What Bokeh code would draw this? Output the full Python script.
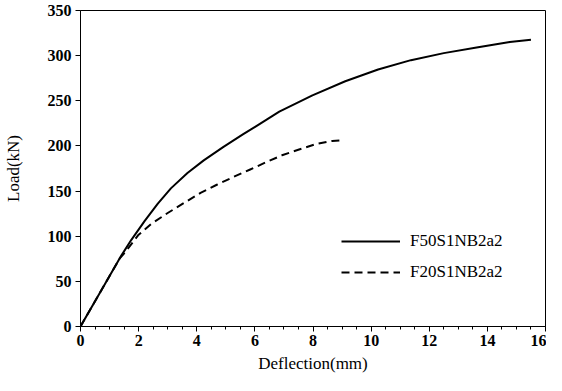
from bokeh.plotting import figure
from bokeh.models import Range1d, SingleIntervalTicker, Legend, LegendItem
from bokeh.embed import file_html
from bokeh.resources import INLINE

# Data
f50_x = [0, 0.5, 1.0, 1.41, 1.75, 2.21, 2.66, 3.11, 3.68, 4.24, 4.92, 5.6, 6.05,
         6.84, 7.98, 9.11, 10.24, 11.37, 12.5, 13.63, 14.77, 15.5]
f50_y = [0, 28, 56, 78.8, 96, 117, 136, 153, 170, 184, 199, 213, 222,
         238, 256, 271.6, 284.7, 295, 302.8, 309, 315, 317.7]

f20_x = [0, 0.5, 1.0, 1.35, 1.53, 1.98, 2.43, 3.0, 3.56, 4.13, 4.69, 5.26, 5.82,
         6.39, 6.96, 7.52, 8.09, 8.66, 8.94]
f20_y = [0, 28, 56, 75.5, 82, 101, 113.5, 125.7, 136.8, 148, 157, 165.6, 173.6,
         182, 190, 196, 202, 205.5, 206]

series_labels = ["F50S1NB2a2", "F20S1NB2a2"]
x_label = "Deflection(mm)"
y_label = "Load(kN)"

SERIF = "Liberation Serif"

p = figure(width=546, height=375, output_backend="svg", toolbar_location=None,
           x_range=Range1d(0, 16), y_range=Range1d(0, 350),
           min_border_left=74, min_border_right=1, min_border_top=10, min_border_bottom=44)

p.xgrid.visible = False
p.ygrid.visible = False
p.outline_line_color = "black"
p.outline_line_alpha = 1
p.outline_line_width = 1

p.xaxis.ticker = SingleIntervalTicker(interval=2, num_minor_ticks=4)
p.yaxis.ticker = SingleIntervalTicker(interval=50, num_minor_ticks=0)

for ax in (p.xaxis, p.yaxis):
    ax.axis_line_color = "black"
    ax.major_tick_line_color = "black"
    ax.minor_tick_line_color = "black"
    ax.major_tick_in = 0
    ax.major_tick_out = 5
    ax.minor_tick_in = 0
    ax.minor_tick_out = 3
    ax.major_label_text_font = SERIF
    ax.major_label_text_font_style = "bold"
    ax.major_label_text_font_size = "16px"
    ax.major_label_text_color = "black"
    ax.axis_label_text_font = SERIF
    ax.axis_label_text_font_style = "normal"
    ax.axis_label_text_font_size = "17px"
    ax.axis_label_text_color = "black"

p.xaxis.axis_label = x_label
p.yaxis.axis_label = y_label
p.xaxis.major_label_standoff = 3
p.xaxis.axis_label_standoff = 5
p.yaxis.major_label_standoff = 4
p.yaxis.axis_label_standoff = 22

r1 = p.line(f50_x, f50_y, line_color="black", line_width=2, line_join="round")
r2 = p.line(f20_x, f20_y, line_color="black", line_width=2, line_dash="8 5", line_join="round")

legend = Legend(items=[LegendItem(label=series_labels[0], renderers=[r1]),
                       LegendItem(label=series_labels[1], renderers=[r2])],
                location=(261, 44), orientation="vertical",
                border_line_color=None, background_fill_alpha=0,
                padding=0, margin=0, spacing=11,
                glyph_width=59, glyph_height=20, label_height=20,
                label_standoff=10,
                label_text_font=SERIF, label_text_font_size="17px",
                label_text_color="black")
p.add_layout(legend, "center")

open("out.html", "w").write(file_html(p, INLINE))
